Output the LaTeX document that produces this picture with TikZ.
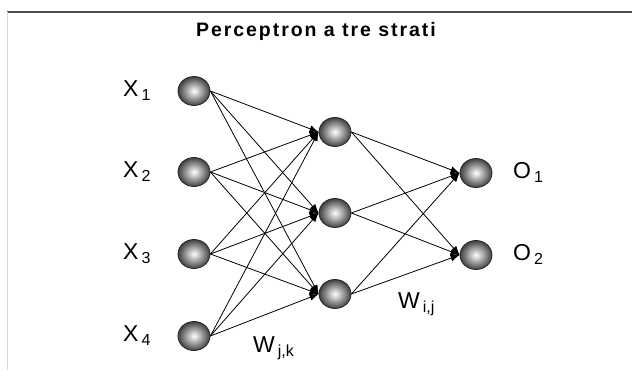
\documentclass[tikz,border=0pt]{standalone}
\usepackage{fontspec}
\setmainfont{Liberation Sans}
\usetikzlibrary{arrows.meta,shapes.geometric}
\begin{document}
\begin{tikzpicture}[x=1pt,y=-1pt,
  neuron/.style={ellipse,minimum width=32pt,minimum height=29pt,inner sep=0pt,draw=black!85,line width=0.8pt,inner color=white,outer color=black!75},
  conn/.style={line width=0.8pt,-{Latex[length=9pt,width=7pt]}},
  lbl/.style={font=\fontsize{23}{23}\selectfont,anchor=base west,inner sep=0pt},
]
\useasboundingbox (0,0) rectangle (632,370);
\fill[white] (0,0) rectangle (632,370);
\draw[black!70,line width=2pt] (7,12) -- (632,12);
\draw[black!15,line width=0.8pt] (7,12) -- (7,370);
\node[font=\bfseries\fontsize{19.5}{19.5}\selectfont,anchor=base,inner sep=0pt] (title) at (316,36) {\addfontfeature{LetterSpace=10}Perceptron a tre strati};
\node[neuron] (x1) at (194,91) {};
\node[neuron] (x2) at (194,172) {};
\node[neuron] (x3) at (194,254) {};
\node[neuron] (x4) at (194,336) {};
\node[neuron] (h1) at (335,132) {};
\node[neuron] (h2) at (335,213) {};
\node[neuron] (h3) at (335,294) {};
\node[neuron] (o1) at (476,173) {};
\node[neuron] (o2) at (476,255) {};
\foreach \i in {1,...,4}{\foreach \j in {1,2,3}{\draw[conn] (x\i.east) -- (h\j.west);}}
\foreach \j in {1,2,3}{\foreach \k in {1,2}{\draw[conn] (h\j.east) -- (o\k.west);}}
\newcommand{\labsub}[2]{#1\kern3pt\raisebox{-4pt}{\fontsize{16}{16}\selectfont #2}}
\node[lbl] (lx1) at (123,96) {\labsub{X}{1}};
\node[lbl] (lx2) at (123,177) {\labsub{X}{2}};
\node[lbl] (lx3) at (123,259) {\labsub{X}{3}};
\node[lbl] (lx4) at (123,341) {\labsub{X}{4}};
\node[lbl] (lo1) at (513,178) {\labsub{O}{1}};
\node[lbl] (lo2) at (513,260) {\labsub{O}{2}};
\node[lbl] (wjk) at (253,352) {\labsub{W}{j,k}};
\node[lbl] (wij) at (398,308) {\labsub{W}{i,j}};
\end{tikzpicture}
\end{document}
